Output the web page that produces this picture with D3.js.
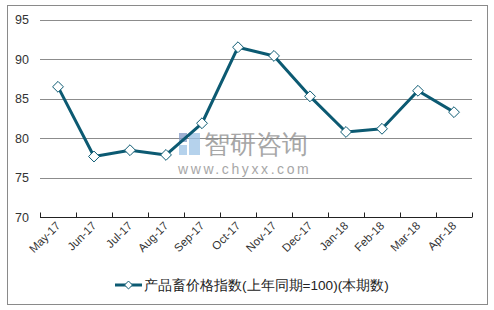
<!DOCTYPE html>
<html>
<head>
<meta charset="utf-8">
<script src="https://cdn.jsdelivr.net/npm/d3@7"></script>
<style>
body { margin: 0; background: #fff; }
text { font-family: "Liberation Sans", Arial, sans-serif; }
</style>
</head>
<body>
<div class="svg-container"></div>
<script>
var months = ['May-17', 'Jun-17', 'Jul-17', 'Aug-17', 'Sep-17', 'Oct-17', 'Nov-17', 'Dec-17', 'Jan-18', 'Feb-18', 'Mar-18', 'Apr-18'];
var values = [86.5, 77.7, 78.5, 77.9, 81.9, 91.5, 90.4, 85.3, 80.8, 81.2, 86.0, 83.3];
var yTicks = [70, 75, 80, 85, 90, 95];
var seriesName = '产品畜价格指数(上年同期=100)(本期数)';

var width = 494;
var height = 310;
var colour = '#0c5a72';

var svg = d3.select('.svg-container')
	.append('svg')
	.attr('width', width)
	.attr('height', height);

// Outer frame
svg.append('rect')
	.attr('x', 7.5)
	.attr('y', 5.5)
	.attr('width', 480)
	.attr('height', 299)
	.attr('fill', 'none')
	.attr('stroke', '#8a8a8a');

// Set up scales
var xScale = d3.scaleBand()
	.domain(months)
	.range([40, 472]);

var yScale = d3.scaleLinear()
	.domain([70, 95])
	.range([217.5, 19.5]);

// Gridlines
svg.append('g')
	.selectAll('line')
	.data(yTicks.slice(1))
	.enter()
	.append('line')
	.attr('x1', 40)
	.attr('x2', 472)
	.attr('y1', function(d) { return Math.round(yScale(d)) + 0.5; })
	.attr('y2', function(d) { return Math.round(yScale(d)) + 0.5; })
	.attr('stroke', '#8c8c8c');

// Y axis labels
svg.append('g')
	.selectAll('text')
	.data(yTicks)
	.enter()
	.append('text')
	.attr('x', 29)
	.attr('y', function(d) { return yScale(d) + 4.5; })
	.attr('text-anchor', 'end')
	.attr('font-size', 12.5)
	.attr('fill', '#333')
	.text(function(d) { return d; });

// Watermark
var wm = svg.append('g').attr('opacity', 0.75);
wm.append('rect').attr('x', 179).attr('y', 133).attr('width', 8).attr('height', 9).attr('fill', '#7f97c4');
wm.append('rect').attr('x', 189).attr('y', 133).attr('width', 11).attr('height', 22).attr('fill', '#9dc3e6');
wm.append('rect').attr('x', 179).attr('y', 145).attr('width', 8).attr('height', 10).attr('fill', '#9dc3e6');
wm.append('text')
	.attr('x', 204)
	.attr('y', 153)
	.attr('font-family', '"Noto Sans CJK SC"')
	.attr('font-size', 26)
	.attr('fill', '#8a8a8a')
	.text('智研咨询');
wm.append('text')
	.attr('x', 178)
	.attr('y', 174)
	.attr('font-size', 14)
	.attr('letter-spacing', 2.6)
	.attr('fill', '#8a8a8a')
	.text('www.chyxx.com');

// X axis
var gx = svg.append('g')
	.attr('transform', 'translate(0,' + 217.5 + ')');

gx.append('line')
	.attr('x1', 40)
	.attr('x2', 472)
	.attr('stroke', '#222');

gx.selectAll('.tick')
	.data(d3.range(months.length + 1))
	.enter()
	.append('line')
	.attr('x1', function(i) { return 40.5 + i * xScale.step(); })
	.attr('x2', function(i) { return 40.5 + i * xScale.step(); })
	.attr('y1', -5)
	.attr('y2', 0)
	.attr('stroke', '#222');

gx.selectAll('text')
	.data(months)
	.enter()
	.append('text')
	.attr('transform', function(d) {
		return 'translate(' + (xScale(d) + xScale.bandwidth() / 2 + 3) + ',9) rotate(-45)';
	})
	.attr('text-anchor', 'end')
	.attr('font-size', 11.5)
	.attr('fill', '#333')
	.text(function(d) { return d; });

// Line
var line = d3.line()
	.x(function(d, i) { return xScale(months[i]) + xScale.bandwidth() / 2; })
	.y(function(d) { return yScale(d); });

svg.append('path')
	.datum(values)
	.attr('d', line)
	.attr('fill', 'none')
	.attr('stroke', colour)
	.attr('stroke-width', 3)
	.attr('stroke-linejoin', 'round');

var diamond = d3.symbol().type(d3.symbolDiamond2).size(75);

svg.append('g')
	.selectAll('path')
	.data(values)
	.enter()
	.append('path')
	.attr('transform', function(d, i) {
		return 'translate(' + (xScale(months[i]) + xScale.bandwidth() / 2) + ',' + yScale(d) + ')';
	})
	.attr('d', diamond)
	.attr('fill', '#fff')
	.attr('stroke', colour)
	.attr('stroke-width', 1);

// Legend
var legend = svg.append('g')
	.attr('transform', 'translate(115,285)');

legend.append('line')
	.attr('x1', 0)
	.attr('x2', 27)
	.attr('stroke', colour)
	.attr('stroke-width', 3);

legend.append('path')
	.attr('transform', 'translate(13.5,0)')
	.attr('d', d3.symbol().type(d3.symbolDiamond2).size(40))
	.attr('fill', '#fff')
	.attr('stroke', colour);

legend.append('text')
	.attr('x', 29)
	.attr('y', 5)
	.attr('font-family', '"Noto Sans CJK SC"')
	.attr('font-size', 13.6)
	.attr('fill', '#222')
	.text(seriesName);
</script>
</body>
</html>
